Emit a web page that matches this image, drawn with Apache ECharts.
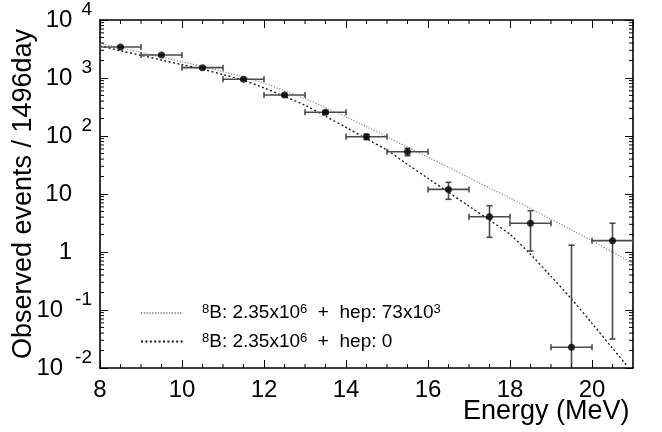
<!DOCTYPE html>
<html><head><meta charset="utf-8">
<script src="https://cdn.jsdelivr.net/npm/echarts@6/dist/echarts.min.js"></script>
<style>html,body{margin:0;padding:0;background:#fff}#c{width:662px;height:432px}</style>
</head><body><div id="c"></div>
<script>
// ---- data ----
const energy   = [8.5, 9.5, 10.5, 11.5, 12.5, 13.5, 14.5, 15.5, 16.5, 17.5, 18.5, 19.5, 20.5];
const binLow   = [8, 9, 10, 11, 12, 13, 14, 15, 16, 17, 18, 19, 20];
const binHigh  = [9, 10, 11, 12, 13, 14, 15, 16, 17, 18, 19, 20, 21];
const events   = [3420, 2496, 1507, 950, 509, 256, 97, 53.6, 12.0, 4.06, 3.13, 0.0228, 1.57];
const errLow   = [3360, 2446, 1468, 919, 486, 240, 87, 45.7, 8.1, 1.79, 1.04, 0, 0.0316];
const errHigh  = [3480, 2546, 1546, 981, 532, 272, 107, 61.4, 15.9, 6.28, 5.15, 1.31, 3.13];

const hepEnergy = [8, 8.5, 9, 9.5, 10, 10.5, 11, 11.5, 12, 12.5, 13, 13.5, 14, 14.5, 15, 15.5, 16, 16.5, 17, 17.5, 18, 18.5, 19, 19.5, 20, 20.5, 21];
const hepCurve  = [3963, 3311, 2754, 2291, 1905, 1585, 1288, 1047, 813, 603, 437, 309, 214, 145, 96.6, 64.6, 43.2, 28.8, 19.1, 12.7, 8.51, 5.62, 3.67, 2.40, 1.57, 1.0, 0.638];
const noHepEnergy = [8, 8.5, 9, 9.5, 10, 10.5, 11, 11.5, 12, 12.5, 13, 13.5, 14, 14.5, 15, 15.5, 16, 16.5, 17, 17.5, 18, 18.5, 19, 19.5, 20, 20.5, 20.85];
const noHepCurve  = [3565, 2951, 2455, 2042, 1698, 1413, 1148, 912, 676, 479, 339, 219, 141, 89.1, 56.9, 32.4, 18.6, 10.7, 6.17, 3.55, 2.0, 0.912, 0.380, 0.155, 0.0589, 0.0219, 0.0110];

const xMajorTicks = [8, 10, 12, 14, 16, 18, 20];
const xMinorTicks = [8.5, 9, 9.5, 10.5, 11, 11.5, 12.5, 13, 13.5, 14.5, 15, 15.5, 16.5, 17, 17.5, 18.5, 19, 19.5, 20.5];
const yMinorTicks = [0.02,0.03,0.04,0.05,0.06,0.07,0.08,0.09, 0.2,0.3,0.4,0.5,0.6,0.7,0.8,0.9,
                     2,3,4,5,6,7,8,9, 20,30,40,50,60,70,80,90, 200,300,400,500,600,700,800,900,
                     2000,3000,4000,5000,6000,7000,8000,9000];

const legendNames = ['hep73', 'hep0'];
const legendLabels = {
  hep73: '{s|8}{t|B: 2.35x10}{s|6}{t|  +  hep: 73x10}{s|3}',
  hep0:  '{s|8}{t|B: 2.35x10}{s|6}{t|  +  hep: 0}'
};
const xTitle = 'Energy (MeV)';
const yTitle = 'Observed events / 1496day';

// ---- chart ----
const FONT = "'Liberation Sans', Arial, Helvetica, sans-serif";
const X_MIN = 8, X_MAX = 21, Y_MIN = 0.01, Y_MAX = 10000;
const chart = echarts.init(document.getElementById('c'), null, {renderer: 'canvas'});

function yLabel(v) {
  const e = Math.round(Math.log10(v));
  if (e === 0) return '{p|1}';
  if (e === 1) return '{p|10}';
  return e < 0 ? '{b|10}{en|' + e + '}' : '{b|10}{e|' + e + '}';
}

function renderErr(params, api) {
  const x = api.value(0), y = api.value(1), xl = api.value(2), xh = api.value(3), yl = api.value(4), yh = api.value(5);
  const cs = params.coordSys;
  const c = api.coord([x, y]), l = api.coord([xl, y]), r = api.coord([xh, y]), t = api.coord([x, yh]);
  const b = yl > 0 ? api.coord([x, yl]) : [c[0], cs.y + cs.height];
  const st = {stroke: '#4a4a4a', lineWidth: 1.6};
  const ln = (x1, y1, x2, y2) => ({type: 'line', shape: {x1, y1, x2, y2}, style: st});
  const ch = [
    ln(l[0], c[1], r[0], c[1]),
    ln(l[0], c[1] - 3, l[0], c[1] + 3),
    ln(r[0], c[1] - 3, r[0], c[1] + 3),
    ln(c[0], t[1], c[0], b[1]),
    ln(c[0] - 3, t[1], c[0] + 3, t[1])
  ];
  if (yl > 0) ch.push(ln(c[0] - 3, b[1], c[0] + 3, b[1]));
  return {type: 'group', children: ch};
}

function renderYMinor(params, api) {
  const cs = params.coordSys;
  const y = api.coord([api.value(0), api.value(1)])[1];
  const st = {stroke: '#000', lineWidth: 1};
  return {type: 'group', children: [
    {type: 'line', shape: {x1: cs.x, y1: y, x2: cs.x + 4, y2: y}, style: st},
    {type: 'line', shape: {x1: cs.x + cs.width, y1: y, x2: cs.x + cs.width - 4, y2: y}, style: st}
  ]};
}
function renderXMinor(params, api) {
  const cs = params.coordSys;
  const x = api.coord([api.value(0), api.value(1)])[0];
  const st = {stroke: '#000', lineWidth: 1};
  return {type: 'group', children: [
    {type: 'line', shape: {x1: x, y1: cs.y + cs.height, x2: x, y2: cs.y + cs.height - 4}, style: st},
    {type: 'line', shape: {x1: x, y1: cs.y, x2: x, y2: cs.y + 4}, style: st}
  ]};
}

const axisLineStyle = {show: true, onZero: false, lineStyle: {color: '#000', width: 1.6}};

chart.setOption({
  animation: false,
  backgroundColor: '#fff',
  textStyle: {fontFamily: FONT},
  grid: {left: 100, right: 29, top: 20, bottom: 64, containLabel: false, outerBoundsMode: 'none'},
  legend: {
    orient: 'vertical', left: 140, top: 303, padding: 0, selectedMode: false,
    itemWidth: 42, itemHeight: 14, itemGap: 9,
    itemStyle: {opacity: 0},
    data: legendNames,
    formatter: n => legendLabels[n],
    textStyle: {
      color: '#000', fontFamily: FONT, padding: [0, 0, 0, 14],
      rich: {
        t: {fontSize: 19, lineHeight: 20, color: '#000', fontFamily: FONT},
        s: {fontSize: 13, lineHeight: 10, verticalAlign: 'top', color: '#000', fontFamily: FONT}
      }
    }
  },
  xAxis: [{
    type: 'value', position: 'bottom', min: X_MIN, max: X_MAX, interval: 2,
    axisLine: axisLineStyle, splitLine: {show: false},
    axisTick: {inside: true, length: 8, lineStyle: {color: '#000', width: 1}},
    axisLabel: {fontSize: 24, color: '#000', fontFamily: FONT, margin: 10, showMaxLabel: false,
      formatter: v => (xMajorTicks.indexOf(v) >= 0 ? String(v) : '')},
    name: xTitle, nameLocation: 'end', nameGap: -170, nameMoveOverlap: false,
    nameTextStyle: {fontSize: 27, color: '#000', fontFamily: FONT, verticalAlign: 'top', padding: [30, 0, 0, 0]}
  }, {
    type: 'value', position: 'top', min: X_MIN, max: X_MAX, interval: 2,
    axisLine: axisLineStyle, splitLine: {show: false},
    axisTick: {inside: true, length: 8, lineStyle: {color: '#000', width: 1}},
    axisLabel: {show: false}
  }],
  yAxis: [{
    type: 'log', logBase: 10, position: 'left', min: Y_MIN, max: Y_MAX,
    axisLine: axisLineStyle, splitLine: {show: false},
    axisTick: {inside: true, length: 8, lineStyle: {color: '#000', width: 1}},
    axisLabel: {
      color: '#000', fontFamily: FONT, margin: 8, formatter: yLabel,
      rich: {
        b: {fontSize: 24, lineHeight: 24, fontFamily: FONT, color: '#000'},
        p: {fontSize: 24, lineHeight: 24, fontFamily: FONT, color: '#000', padding: [0, 20, 0, 0]},
        e: {fontSize: 19, lineHeight: 40, verticalAlign: 'top', fontFamily: FONT, color: '#000', padding: [0, 0, 0, 9]},
        en: {fontSize: 19, lineHeight: 40, verticalAlign: 'top', fontFamily: FONT, color: '#000', padding: [0, 0, 0, 12]}
      }
    },
    name: yTitle, nameLocation: 'middle', nameGap: 63, nameRotate: 90, nameMoveOverlap: false,
    nameTextStyle: {fontSize: 27, color: '#000', fontFamily: FONT}
  }, {
    type: 'log', logBase: 10, position: 'right', min: Y_MIN, max: Y_MAX,
    axisLine: axisLineStyle, splitLine: {show: false},
    axisTick: {inside: true, length: 8, lineStyle: {color: '#000', width: 1}},
    axisLabel: {show: false}
  }],
  series: [
    {
      name: 'hep73', type: 'line', xAxisIndex: 0, yAxisIndex: 0,
      data: hepEnergy.map((x, i) => [x, hepCurve[i]]),
      showSymbol: false, symbol: 'none', smooth: 0.3, z: 3,
      lineStyle: {color: '#8c8c8c', width: 1.2, type: [1.2, 1.6]},
      itemStyle: {color: '#8c8c8c'}
    },
    {
      name: 'hep0', type: 'line', xAxisIndex: 0, yAxisIndex: 0,
      data: noHepEnergy.map((x, i) => [x, noHepCurve[i]]),
      showSymbol: false, symbol: 'none', smooth: 0.3, z: 3,
      lineStyle: {color: '#111', width: 1.3, type: [2, 2.4]},
      itemStyle: {color: '#111'}
    },
    {
      name: 'errors', type: 'custom', xAxisIndex: 0, yAxisIndex: 0, z: 4,
      renderItem: renderErr, encode: {x: 0, y: 1},
      data: energy.map((x, i) => [x, events[i], binLow[i], binHigh[i], errLow[i], errHigh[i]])
    },
    {
      name: 'data', type: 'scatter', xAxisIndex: 0, yAxisIndex: 0, z: 5,
      symbol: 'circle', symbolSize: 7, itemStyle: {color: '#000'},
      data: energy.map((x, i) => [x, events[i]])
    },
    {
      name: 'yMinor', type: 'custom', xAxisIndex: 0, yAxisIndex: 0, z: 6, silent: true,
      renderItem: renderYMinor, encode: {x: 0, y: 1},
      data: yMinorTicks.map(v => [X_MIN, v])
    },
    {
      name: 'xMinor', type: 'custom', xAxisIndex: 0, yAxisIndex: 0, z: 6, silent: true,
      renderItem: renderXMinor, encode: {x: 0, y: 1},
      data: xMinorTicks.map(v => [v, 1])
    }
  ]
});
</script>
</body></html>
